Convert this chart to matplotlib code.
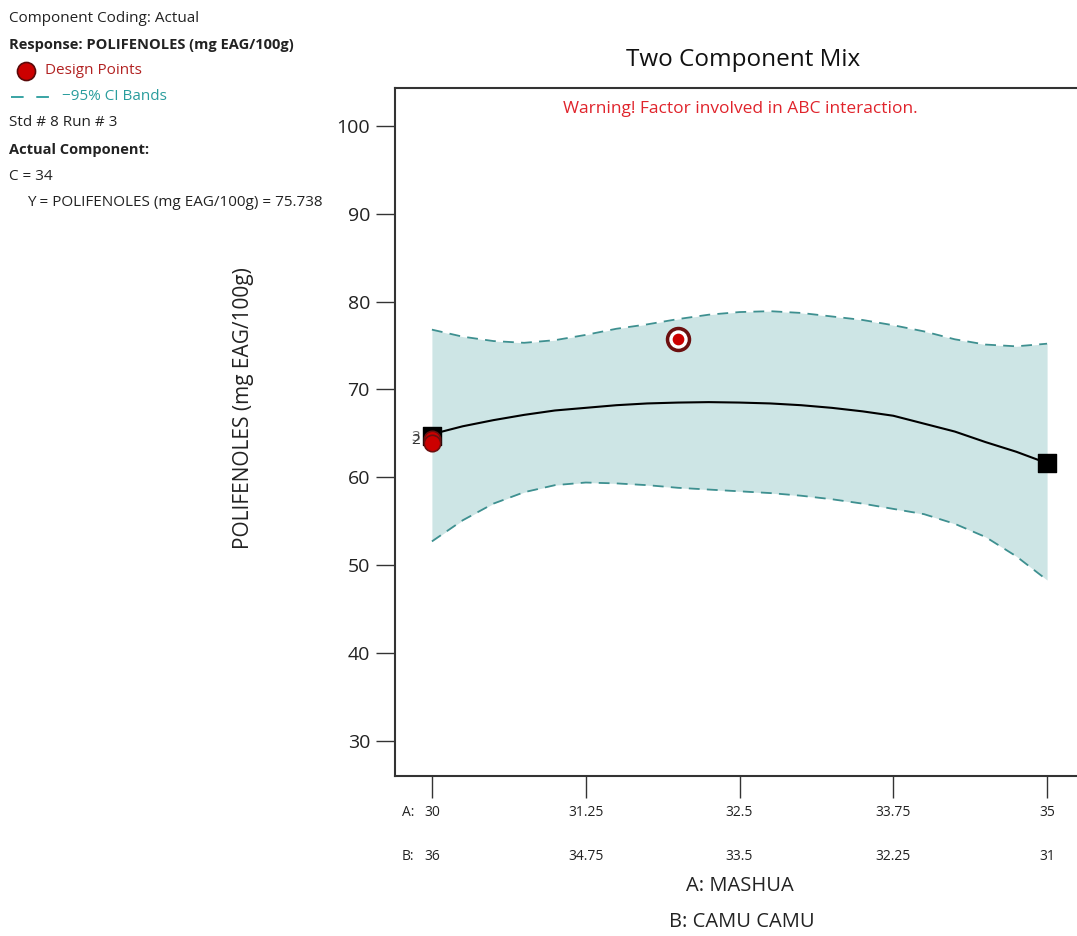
import matplotlib.pyplot as plt

plt.rcParams['font.family'] = ['Open Sans', 'DejaVu Sans']

# component A (MASHUA) along the x axis; B = 66 - A
mashua = [30, 30.25, 30.5, 30.75, 31, 31.25, 31.5, 31.75, 32, 32.25, 32.5,
          32.75, 33, 33.25, 33.5, 33.75, 34, 34.25, 34.5, 34.75, 35]
fit = [64.9, 65.8, 66.5, 67.1, 67.6, 67.9, 68.2, 68.4, 68.5, 68.55, 68.5,
       68.4, 68.2, 67.9, 67.5, 67.0, 66.1, 65.2, 64.0, 62.9, 61.6]
ci_upper = [76.8, 76.0, 75.5, 75.3, 75.6, 76.2, 76.9, 77.4, 78.0, 78.5, 78.8,
            78.9, 78.7, 78.3, 77.9, 77.3, 76.6, 75.7, 75.1, 74.9, 75.2]
ci_lower = [52.7, 55.1, 57.0, 58.3, 59.1, 59.4, 59.3, 59.1, 58.8, 58.6, 58.4,
            58.2, 57.9, 57.5, 57.0, 56.4, 55.8, 54.7, 53.2, 51.0, 48.3]

# design points
design_a = [30, 30]
design_y = [64.4, 63.9]
selected_a = 32.0
selected_y = 75.738

# predicted values at the vertices (black squares)
vertex_a = [30, 35]
vertex_y = [64.7, 61.6]

a_ticks = [30, 31.25, 32.5, 33.75, 35]
a_labels = ['30', '31.25', '32.5', '33.75', '35']
b_labels = ['36', '34.75', '33.5', '32.25', '31']
y_ticks = [30, 40, 50, 60, 70, 80, 90, 100]

W, H = 1077, 936
fig = plt.figure(figsize=(W / 100, H / 100), dpi=100)


def fx(px):
    return px / W


def fy(py):
    return 1 - py / H


ax = fig.add_axes([fx(395), fy(776), fx(1084 - 395), (776 - 88) / H])
ax.set_xlim(29.7, 35.3)
ax.set_ylim(26.0, 104.3)

teal = '#3e9090'
ax.fill_between(mashua, ci_lower, ci_upper, color='#cde5e5', lw=0, zorder=1)
ax.plot(mashua, ci_upper, color=teal, lw=1.3, ls=(0, (6, 4)), zorder=2)
ax.plot(mashua, ci_lower, color=teal, lw=1.3, ls=(0, (6, 4)), zorder=2)
ax.plot(mashua, fit, color='black', lw=1.5, zorder=3)

ax.scatter(vertex_a, vertex_y, marker='s', s=150, color='black', zorder=4)
ax.scatter(design_a, design_y, marker='o', s=140, color='#cc0000',
           edgecolor='#6b0f0f', lw=1.2, zorder=5)
# run-count labels drawn on top of each other
ax.text(29.9, 64.2, '2', ha='right', va='center', fontsize=11, color='#333333')
ax.text(29.9, 64.5, '3', ha='right', va='center', fontsize=11, color='#333333', alpha=0.7)

# highlighted design point (Std # 8 Run # 3)
ax.scatter([selected_a], [selected_y], s=300, color='#6b0f0f', zorder=5)
ax.scatter([selected_a], [selected_y], s=150, color='white', zorder=6)
ax.scatter([selected_a], [selected_y], s=55, color='#cc0000', zorder=7)

for side in ['top', 'bottom', 'left', 'right']:
    ax.spines[side].set_color('#333333')
    ax.spines[side].set_linewidth(1.5)

ax.set_yticks(y_ticks)
ax.set_yticklabels([str(v) for v in y_ticks], fontsize=14, color='#222222')
ax.tick_params(axis='y', length=14, width=1, color='#333333', pad=4)
ax.set_xticks(a_ticks)
ax.set_xticklabels([])
ax.tick_params(axis='x', length=16, width=1, color='#333333')

# two-row component axis labels
for a, la, lb in zip(a_ticks, a_labels, b_labels):
    px = 432 + (a - 30) * 123
    fig.text(fx(px), fy(813), la, ha='center', va='center', fontsize=10, color='#222222')
    fig.text(fx(px), fy(856), lb, ha='center', va='center', fontsize=10, color='#222222')
fig.text(fx(414), fy(813), 'A:', ha='right', va='center', fontsize=10, color='#222222')
fig.text(fx(414), fy(856), 'B:', ha='right', va='center', fontsize=10, color='#222222')
fig.text(fx(740), fy(886), 'A: MASHUA', ha='center', va='center', fontsize=14.5, color='#222222')
fig.text(fx(742), fy(922), 'B: CAMU CAMU', ha='center', va='center', fontsize=14.5, color='#222222')

fig.text(fx(243), fy(408), 'POLIFENOLES (mg EAG/100g)', rotation=90,
         ha='center', va='center', fontsize=15, color='#222222')
fig.text(fx(743), fy(60), 'Two Component Mix', ha='center', va='center',
         fontsize=17.5, color='#111111')
fig.text(fx(740), fy(109), 'Warning! Factor involved in ABC interaction.',
         ha='center', va='center', fontsize=12.5, color='#e0242c')

# info panel in the upper left
txt = dict(va='center', fontsize=11, color='#222222')
fig.text(fx(9), fy(19), 'Component Coding: Actual', **txt)
fig.text(fx(9), fy(45), 'Response: POLIFENOLES (mg EAG/100g)', fontweight='bold',
         va='center', fontsize=10.5, color='#222222')
fig.lines.append(plt.Line2D([fx(26)], [fy(71)], marker='o', ms=13, color='#cc0000',
                            mec='#5a0a0a', mew=1.2, transform=fig.transFigure))
fig.text(fx(45), fy(71), 'Design Points', va='center', fontsize=11, color='#b22222')
fig.lines.append(plt.Line2D([fx(11), fx(52)], [fy(97), fy(97)], color='#2a9d9d',
                            lw=1.3, ls=(0, (7, 7)), transform=fig.transFigure))
fig.text(fx(62), fy(97), '\u221295% CI Bands', va='center', fontsize=11, color='#2a9d9d')
fig.text(fx(9), fy(123), 'Std # 8 Run # 3', **txt)
fig.text(fx(9), fy(150), 'Actual Component:', fontweight='bold',
         va='center', fontsize=10.5, color='#222222')
fig.text(fx(9), fy(176), 'C = 34', **txt)
fig.text(fx(27), fy(202), 'Y = POLIFENOLES (mg EAG/100g) = 75.738', **txt)

fig.savefig('out.png', dpi=100)
